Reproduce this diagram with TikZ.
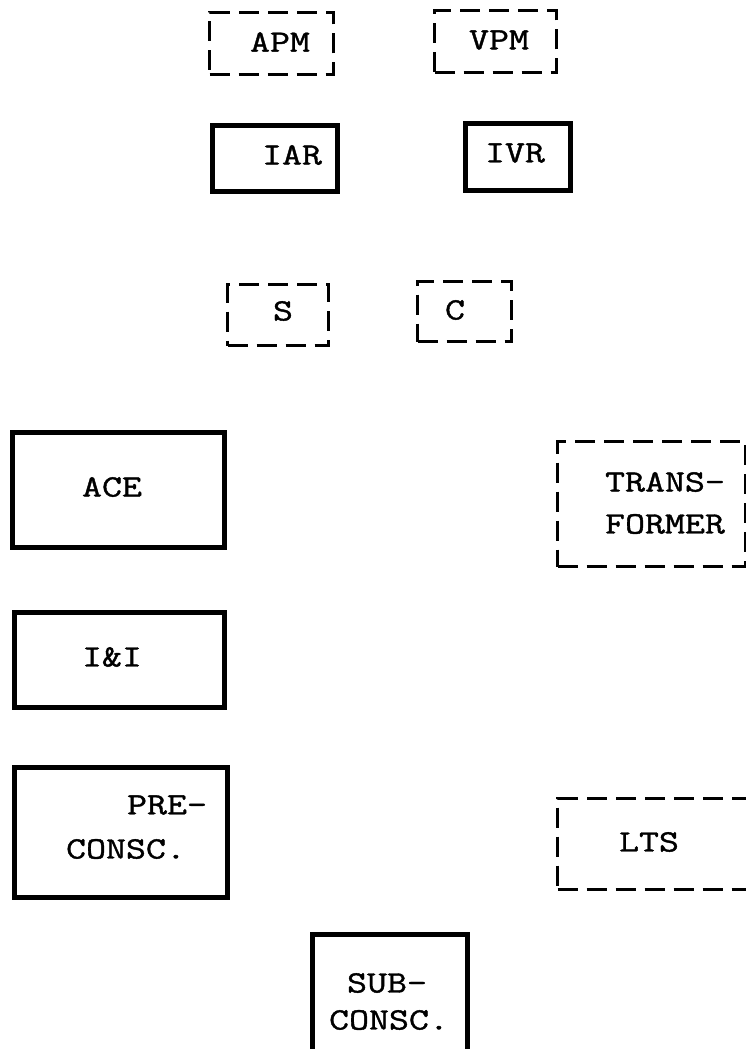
\documentclass[tikz,border=0pt]{standalone}
\usepackage{fontspec}
\newfontfamily\twfont{Latin Modern Mono}[FakeStretch=1.25,FakeBold=1.3]
\begin{document}
\begin{tikzpicture}[x=1pt,y=-1pt,
  solidbox/.style={draw, line width=4.8pt, rectangle, inner sep=0pt, anchor=north west},
  dashbox/.style={draw, line width=3pt, rectangle, dash pattern=on 20pt off 9pt, inner sep=0pt, anchor=north west},
  lbl/.style={font=\fontsize{31}{33}\selectfont\twfont, inner sep=0pt}]
\fill[white] (0,0) rectangle (746,1049);
\useasboundingbox (0,0) rectangle (746,1049);
\clip (0,0) rectangle (746,1049);
% boxes
\node[dashbox, minimum width=124pt, minimum height=62pt] (apm) at (208,11) {};
\node[dashbox, minimum width=122pt, minimum height=62pt] (vpm) at (433,9) {};
\node[solidbox, minimum width=125pt, minimum height=66pt] (iar) at (210,123) {};
\node[solidbox, minimum width=105pt, minimum height=67pt] (ivr) at (463,121) {};
\node[dashbox, minimum width=101pt, minimum height=61pt] (s) at (226,283) {};
\node[dashbox, minimum width=94pt, minimum height=60pt] (c) at (416,280) {};
\node[solidbox, minimum width=212pt, minimum height=115pt] (ace) at (10,430) {};
\node[dashbox, minimum width=188pt, minimum height=125pt] (trans) at (556,440) {};
\node[solidbox, minimum width=210pt, minimum height=95pt] (ii) at (12,610) {};
\node[solidbox, minimum width=213pt, minimum height=130pt] (pre) at (12,765) {};
\node[dashbox, minimum width=240pt, minimum height=91pt] (lts) at (556,797) {};
\node[solidbox, minimum width=155pt, minimum height=160pt] (sub) at (310,932) {};
% labels
\node[lbl] (tapm) at (280,42) {APM};
\node[lbl] (tvpm) at (499,40) {VPM};
\node[lbl] (tiar) at (292,155) {IAR};
\node[lbl] (tivr) at (515,153) {IVR};
\node[lbl] (ts) at (283,311) {S};
\node[lbl] (tc) at (455,310) {C};
\node[lbl] (tace) at (112,487) {ACE};
\node[lbl] (ttrans1) at (665,482) {TRANS-};
\node[lbl] (ttrans2) at (665,524) {FORMER};
\node[lbl] (tii) at (112,657) {I\&I};
\node[lbl] (tpre1) at (167,805) {PRE-};
\node[lbl] (tpre2) at (126,849) {CONSC.};
\node[lbl] (tlts) at (649,842) {LTS};
\node[lbl] (tsub1) at (387,983) {SUB-};
\node[lbl] (tsub2) at (389,1020) {CONSC.};
\end{tikzpicture}
\end{document}
